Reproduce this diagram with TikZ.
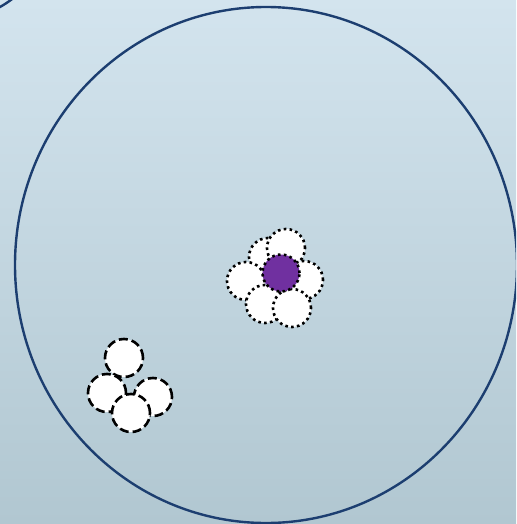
\documentclass[tikz,border=0pt]{standalone}
\usepackage{tikz}
\usetikzlibrary{positioning}
\usepackage{xcolor}
\definecolor{skyTop}{RGB}{211,228,238}
\definecolor{skyBottom}{RGB}{177,199,209}
\definecolor{rimColor}{RGB}{28,62,112}
\definecolor{coreColor}{RGB}{112,48,160}

\begin{document}
\begin{tikzpicture}[x=1pt, y=-1pt,
        petal/.style={circle, draw=black, fill=white, line width=2.6pt, dash pattern=on 2.6pt off 3.3pt, minimum size=38pt, inner sep=0pt},
        core/.style={circle, draw=black, fill=coreColor, line width=2.6pt, dash pattern=on 2.6pt off 3.3pt, minimum size=37pt, inner sep=0pt},
        spore/.style={circle, draw=black, fill=white, line width=2.6pt, dash pattern=on 9pt off 4pt, minimum size=38pt, inner sep=0pt},
        rim/.style={draw=rimColor, line width=2.4pt}
      ]
      \useasboundingbox (0,0) rectangle (516,524);
      \shade[top color=skyTop, bottom color=skyBottom] (0,0) rectangle (516,524);
      \begin{scope}
        \clip (0,0) rectangle (516,524);
        \draw[rim] (-49,-81) circle[radius=100.7];
        \draw[rim] (266,265) ellipse[x radius=251, y radius=258];
      \end{scope}

      % flower cluster
      \node[petal] (upleft) at (268,257) {};
      \node[petal] (top) at (286,248) {};
      \node[petal] (left) at (246,281) {};
      \node[petal] (lowleft) at (265,304) {};
      \node[petal] (right) at (304,280) {};
      \node[petal] (bottom) at (292,308) {};
      \node[core] (centre) at (281,273) {};

      % loose group
      \node[spore] (s1) at (124,358) {};
      \node[spore] (s2) at (107,393) {};
      \node[spore] (s3) at (153,397) {};
      \node[spore] (s4) at (131,413) {};
    \end{tikzpicture}
\end{document}
